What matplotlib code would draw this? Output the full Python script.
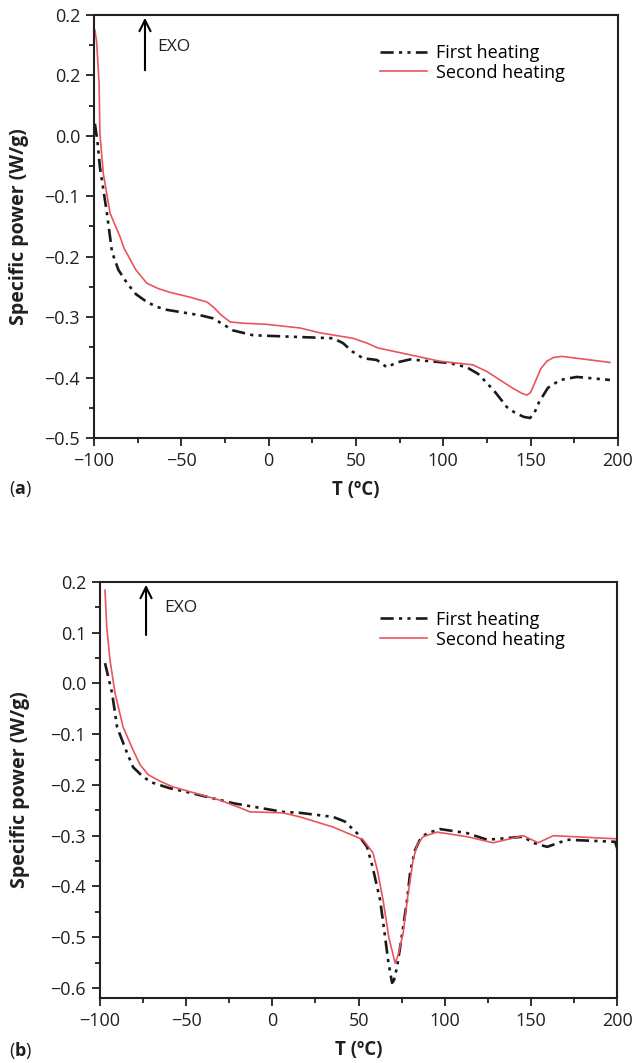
import matplotlib
matplotlib.use("Agg")
import matplotlib.pyplot as plt
from matplotlib.ticker import MultipleLocator, FixedLocator, FixedFormatter

plt.rcParams["font.family"] = ["Open Sans", "DejaVu Sans"]
plt.rcParams["mathtext.fontset"] = "custom"
plt.rcParams["mathtext.bf"] = "Open Sans:bold"
plt.rcParams["mathtext.rm"] = "Open Sans"

# Panel (a)
a_first_T = [-99.5, -98, -96.6, -92.6, -89.7, -86, -81, -76, -69.7, -64, -58.2, -39, -31.9,
             -26, -20.4, -8.9, 18, 36.9, 42.6, 48, 54, 62, 67.7, 73.5, 81, 103.8, 113.5,
             120, 125, 130, 136.5, 141, 146, 149.7, 152, 155, 160, 167, 176.5, 195.5]
a_first_P = [0.02, -0.01, -0.052, -0.128, -0.192, -0.222, -0.244, -0.262, -0.275, -0.283,
             -0.288, -0.297, -0.302, -0.312, -0.322, -0.330, -0.333, -0.335, -0.343, -0.357,
             -0.368, -0.371, -0.383, -0.375, -0.370, -0.376, -0.383, -0.394, -0.409, -0.425,
             -0.449, -0.458, -0.465, -0.467, -0.460, -0.440, -0.417, -0.404, -0.399, -0.404]
a_second_T = [-99.5, -98.5, -97.1, -96.6, -94.7, -90.8, -85.1, -82.8, -76, -69.7, -63,
              -56.5, -45, -35.3, -31.8, -27, -22, -15, -1, 18, 29.4, 48.3, 56.3, 62.6, 98,
              117, 125, 132.5, 140, 145, 147.9, 150, 153, 156, 159.4, 163, 168, 195.5]
a_second_P = [0.175, 0.156, 0.087, 0.004, -0.062, -0.128, -0.167, -0.186, -0.222, -0.244,
              -0.253, -0.259, -0.267, -0.275, -0.283, -0.297, -0.308, -0.310, -0.312, -0.318,
              -0.326, -0.335, -0.343, -0.351, -0.373, -0.379, -0.390, -0.404, -0.418, -0.426,
              -0.429, -0.425, -0.405, -0.385, -0.373, -0.367, -0.365, -0.375]

# Panel (b)
b_first_T = [-97.1, -93, -90.1, -84.3, -80.8, -75, -70, -60, -49.5, -22.8, 6, 16, 35.2, 42,
             49.1, 54.9, 58, 62.5, 65, 67.1, 69.4, 70.5, 72.3, 75, 78.1, 80, 82.8, 86, 89.8,
             97.3, 113, 124.6, 145.5, 151.2, 159.4, 171, 198.8, 200]
b_first_P = [0.040, -0.019, -0.086, -0.137, -0.165, -0.184, -0.195, -0.206, -0.214, -0.236,
             -0.253, -0.255, -0.263, -0.272, -0.295, -0.322, -0.360, -0.427, -0.490, -0.545,
             -0.590, -0.585, -0.559, -0.500, -0.427, -0.370, -0.328, -0.305, -0.295, -0.287,
             -0.295, -0.308, -0.302, -0.314, -0.322, -0.308, -0.312, -0.325]
b_second_T = [-97.1, -96.1, -94.2, -91.3, -86.6, -81, -76.8, -72, -65, -57.6, -30.4, -18.8,
              -13, 6, 16, 35.2, 45, 52.6, 58.4, 61, 64.2, 67.5, 71.2, 73, 75.8, 78.5, 81.6,
              84, 87.4, 95.5, 113, 128, 145.5, 154.2, 162.9, 198.8]
b_second_P = [0.184, 0.111, 0.046, -0.019, -0.086, -0.130, -0.160, -0.180, -0.193, -0.204,
              -0.230, -0.245, -0.253, -0.255, -0.263, -0.283, -0.297, -0.308, -0.334, -0.370,
              -0.427, -0.500, -0.551, -0.535, -0.492, -0.420, -0.348, -0.318, -0.302, -0.293,
              -0.302, -0.314, -0.300, -0.314, -0.300, -0.306]

a_yticks = [-0.5, -0.4, -0.3, -0.2, -0.1, 0.0, 0.1, 0.2]
a_ylabels = ["\u22120.5", "\u22120.4", "\u22120.3", "\u22120.2", "\u22120.1", "0.0", "0.2", "0.2"]
b_yticks = [-0.6, -0.5, -0.4, -0.3, -0.2, -0.1, 0.0, 0.1, 0.2]
xticks = [-100, -50, 0, 50, 100, 150, 200]

red = "#e8555a"
ink = "#231f20"
dashdotdot = (0, (5, 2, 1.2, 2, 1.2, 2))

fig = plt.figure(figsize=(6.33, 10.63), dpi=100)
ax_a = fig.add_axes([0.1485, 0.588, 0.8275, 0.3979])
ax_b = fig.add_axes([0.158, 0.0611, 0.817, 0.3914])


def style(ax, ylim, yticks, ylabels=None):
    ax.set_xlim(-100, 200)
    ax.set_ylim(*ylim)
    ax.xaxis.set_major_locator(FixedLocator(xticks))
    ax.xaxis.set_minor_locator(MultipleLocator(25))
    ax.yaxis.set_major_locator(FixedLocator(yticks))
    ax.yaxis.set_minor_locator(MultipleLocator(0.05))
    if ylabels is not None:
        ax.yaxis.set_major_formatter(FixedFormatter(ylabels))
    else:
        ax.set_yticklabels(["\u2212%.1f" % -v if v < 0 else "%.1f" % v for v in yticks])
    ax.set_xticklabels(["\u2212%d" % -v if v < 0 else "%d" % v for v in xticks])
    ax.tick_params(which="both", direction="out", top=False, right=False, width=1.3,
                   labelsize=13, colors=ink)
    ax.tick_params(which="major", length=6, pad=4)
    ax.tick_params(which="minor", length=3.5)
    for s in ax.spines.values():
        s.set_linewidth(1.5)
        s.set_color(ink)
    ax.set_xlabel("T (\u00baC)", fontsize=13.5, fontweight="bold", labelpad=7, color=ink)
    ax.set_ylabel("Specific power (W/g)", fontsize=14, fontweight="bold", color=ink)


for ax, ft, fp, st, sp in [(ax_a, a_first_T, a_first_P, a_second_T, a_second_P),
                           (ax_b, b_first_T, b_first_P, b_second_T, b_second_P)]:
    ax.plot(ft, fp, color="#1a1a1a", lw=1.9, linestyle=dashdotdot, label="First heating")
    ax.plot(st, sp, color=red, lw=1.2, label="Second heating")
    ax.legend(loc="upper right", frameon=False, fontsize=13, handlelength=2.6,
              handletextpad=0.5, labelspacing=0.1, bbox_to_anchor=(0.93, 0.97))

style(ax_a, (-0.5, 0.2), a_yticks, a_ylabels)
style(ax_b, (-0.62, 0.2), b_yticks)
ax_a.yaxis.set_label_coords(-0.125, 0.5)
ax_b.yaxis.set_label_coords(-0.135, 0.5)

ax_a.annotate("", xy=(-70.8, 0.2), xytext=(-70.8, 0.104),
              arrowprops=dict(arrowstyle="->", lw=1.5, color="black", mutation_scale=20))
ax_a.text(-64, 0.147, "EXO", fontsize=12.5, va="center", color=ink)
ax_b.annotate("", xy=(-73.3, 0.2), xytext=(-73.3, 0.09),
              arrowprops=dict(arrowstyle="->", lw=1.5, color="black", mutation_scale=20))
ax_b.text(-62.5, 0.149, "EXO", fontsize=12.5, va="center", color=ink)

fig.text(0.015, 0.54, r"($\mathbf{a}$)", fontsize=13, va="center", color=ink)
fig.text(0.015, 0.012, r"($\mathbf{b}$)", fontsize=13, va="center", color=ink)

fig.savefig("out.png", dpi=100)
